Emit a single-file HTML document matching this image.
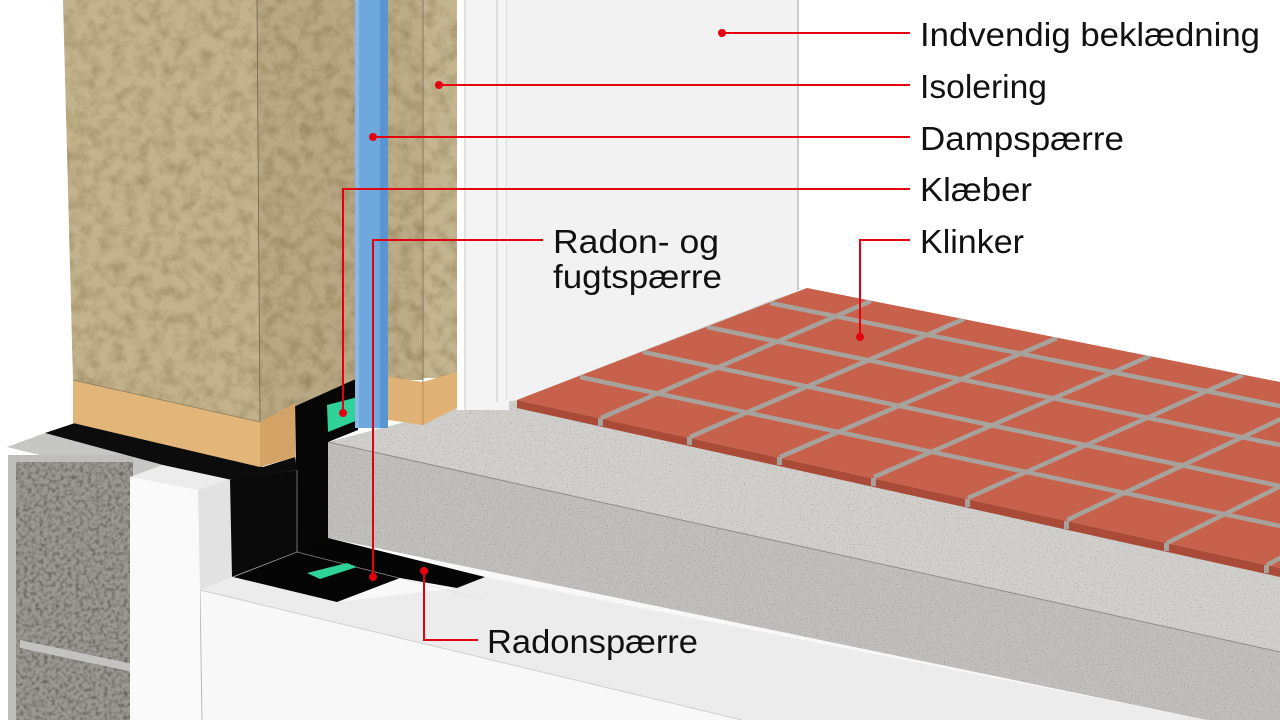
<!DOCTYPE html>
<html><head><meta charset="utf-8"><style>
html,body{margin:0;padding:0;background:#fff;}
svg{display:block;}
text{font-family:"Liberation Sans",sans-serif;fill:#111;}
</style></head><body>
<svg width="1280" height="720" viewBox="0 0 1280 720" xmlns="http://www.w3.org/2000/svg">
<defs>
<filter id="wool" x="0" y="0" width="1" height="1">
<feTurbulence type="fractalNoise" baseFrequency="0.08" numOctaves="3" seed="3"/>
<feColorMatrix type="matrix" values="0 0 0 0 0.5  0 0 0 0 0.45  0 0 0 0 0.3  0 0 0 -1.2 0.75"/>
<feComposite in2="SourceGraphic" operator="in"/>
<feBlend in2="SourceGraphic" mode="multiply"/>
</filter>
<filter id="leca" x="0" y="0" width="1" height="1">
<feTurbulence type="fractalNoise" baseFrequency="0.25" numOctaves="2" seed="5"/>
<feColorMatrix type="matrix" values="0 0 0 0 0.3  0 0 0 0 0.3  0 0 0 0 0.28  0 0 0 -2 1.2"/>
<feComposite in2="SourceGraphic" operator="in"/>
<feBlend in2="SourceGraphic" mode="multiply"/>
</filter>
<filter id="conc" x="0" y="0" width="1" height="1">
<feTurbulence type="fractalNoise" baseFrequency="0.7" numOctaves="2" seed="7"/>
<feColorMatrix type="matrix" values="0 0 0 0 0.55  0 0 0 0 0.55  0 0 0 0 0.53  0 0 0 -4 1.6"/>
<feComposite in2="SourceGraphic" operator="in"/>
<feBlend in2="SourceGraphic" mode="multiply"/>
</filter>
<clipPath id="tileclip"><polygon points="517,400 807,288 1280,382 1280,568"/></clipPath>
</defs>

<!-- EPS bottom -->
<rect x="200" y="560" width="1080" height="160" fill="#f8f8f8"/>
<polygon points="200,590 232,577 337,602 457,588 485,577 1207,720 742,720" fill="#ececec"/>
<line x1="200" y1="590" x2="742" y2="720" stroke="#d0d0d0" stroke-width="1"/>
<line x1="200" y1="590" x2="202" y2="720" stroke="#bbb" stroke-width="1"/>

<!-- concrete slab -->
<polygon points="328,442 470,405 807,288 1280,382 1280,652" fill="#d0cfcb" filter="url(#conc)"/>
<polygon points="328,442 1280,652 1280,720 1207,720 328,538" fill="#c0bfbb" filter="url(#conc)"/>
<line x1="328" y1="442" x2="1280" y2="652" stroke="#8e8d89" stroke-width="1"/>

<!-- leca block -->
<polygon points="7,447 45,433 163,465 130,477" fill="#c6c6c2"/>
<rect x="8" y="455" width="125" height="265" fill="#bdbdb9"/>
<rect x="16" y="462" width="117" height="258" fill="#9b9892" filter="url(#leca)"/>
<polygon points="20,640 133,664 133,672 20,648" fill="#c2c2be"/>

<!-- EPS left vertical -->
<polygon points="130,477 163,465 232,478 198,490" fill="#ececec"/>
<polygon points="130,477 198,490 200,590 200,720 130,720" fill="#fafafa"/>
<polygon points="198,490 232,478 232,577 200,590" fill="#e2e2e2"/>

<!-- black membrane strip on wall top -->
<polygon points="45,433 75,423 263,467 295,457 297,470 232,480 163,465" fill="#0c0c0c"/>
<polygon points="230,480 297,470 297,552 232,577" fill="#0a0a0a"/>
<polygon points="295,400 358,378 358,430 328,442 328,540 297,552" fill="#060606"/>
<polygon points="327,405 358,397 358,420 328,432" fill="#2fd39a"/>
<polygon points="233,577 297,552 328,538 485,577 457,588 400,578 337,602" fill="#050505"/>
<polyline points="233,577 297,552 485,600" fill="none" stroke="#ddd" stroke-width="0.8" opacity="0.6"/>
<line x1="297" y1="470" x2="297" y2="552" stroke="#ddd" stroke-width="0.8" opacity="0.6"/>
<polygon points="307,573 347,563 357,567 320,579" fill="#2fd39a"/>

<!-- left insulation block -->
<polygon points="63,0 257,0 260,422 73,380" fill="#c3b38c" filter="url(#wool)"/>
<polygon points="257,0 357,0 358,378 260,422" fill="#b8a883" filter="url(#wool)"/>
<line x1="257" y1="0" x2="260" y2="422" stroke="#6e6450" stroke-width="0.8"/>
<polygon points="73,380 260,422 260,467 73,423" fill="#e2b579"/>
<polygon points="260,422 295,403 295,457 260,467" fill="#d3a466"/>
<line x1="73" y1="380" x2="260" y2="422" stroke="#8b7a5a" stroke-width="0.8"/>

<!-- blue vapour barrier -->
<rect x="355" y="0" width="33" height="428" fill="#6fa8dc"/>
<rect x="380" y="0" width="8" height="428" fill="#5a95cf"/>
<rect x="355" y="0" width="4" height="428" fill="#8ab9e6"/>

<!-- second insulation -->
<rect x="388" y="0" width="35" height="380" fill="#bcac87" filter="url(#wool)"/>
<rect x="423" y="0" width="34" height="378" fill="#c4b590" filter="url(#wool)"/>
<line x1="423" y1="0" x2="423" y2="382" stroke="#7a6e56" stroke-width="0.8"/>
<polygon points="388,377 423,382 457,372 457,408 423,425 388,420" fill="#e0b276"/>
<line x1="423" y1="382" x2="423" y2="425" stroke="#b08650" stroke-width="0.8"/>

<!-- plasterboards and wall -->
<rect x="457" y="0" width="52" height="410" fill="#f4f4f4"/>
<rect x="457" y="0" width="8" height="410" fill="#ffffff"/>
<line x1="465" y1="0" x2="465" y2="410" stroke="#c8c8c8" stroke-width="1"/>
<line x1="497" y1="0" x2="497" y2="402" stroke="#c8c8c8" stroke-width="1"/>
<line x1="507" y1="0" x2="507" y2="400" stroke="#c8c8c8" stroke-width="1"/>
<polygon points="507,0 798,0 798,290 517,400 507,402" fill="#f3f2f2"/>
<line x1="798" y1="0" x2="798" y2="290" stroke="#9a9a9a" stroke-width="1"/>

<!-- tiles -->
<polygon points="517,400 1280,568 1280,577 517,408" fill="#a94b38"/>
<polygon points="517,400 807,288 1280,382 1280,568" fill="#c8614b"/>
<g clip-path="url(#tileclip)" stroke="#a8a29c" stroke-width="4.5">
<!-- rows -->
<line x1="770" y1="303" x2="1280" y2="406"/>
<line x1="707" y1="327" x2="1280" y2="445"/>
<line x1="643" y1="352" x2="1280" y2="486"/>
<line x1="580" y1="377" x2="1280" y2="526"/>
<!-- columns: front -> back -->
<line x1="601" y1="418" x2="871" y2="301"/>
<line x1="690" y1="437" x2="964" y2="319"/>
<line x1="780" y1="457" x2="1057" y2="338"/>
<line x1="874" y1="477" x2="1150" y2="356"/>
<line x1="968" y1="498" x2="1243" y2="375"/>
<line x1="1067" y1="520" x2="1336" y2="393"/>
<line x1="1167" y1="543" x2="1429" y2="412"/>
<line x1="1267" y1="565" x2="1522" y2="430"/>
</g>
<g fill="#a8a29c">
<rect x="598" y="418" width="5" height="8"/>
<rect x="687" y="437" width="5" height="8"/>
<rect x="777" y="457" width="5" height="8"/>
<rect x="871" y="478" width="5" height="8"/>
<rect x="965" y="499" width="5" height="8"/>
<rect x="1064" y="521" width="5" height="8"/>
<rect x="1164" y="543" width="5" height="8"/>
<rect x="1264" y="565" width="5" height="8"/>
</g>

<!-- leader lines -->
<g stroke="#e3000f" stroke-width="2" fill="none">
<line x1="722" y1="33" x2="910" y2="33"/>
<line x1="439" y1="85" x2="910" y2="85"/>
<line x1="373" y1="137" x2="910" y2="137"/>
<polyline points="343,413 343,189 910,189"/>
<polyline points="860,337 860,240 910,240"/>
<polyline points="373,577 373,240 543,240"/>
<polyline points="424,571 424,640 478,640"/>
</g>
<g fill="#e3000f">
<circle cx="722" cy="33" r="4"/>
<circle cx="439" cy="85" r="4"/>
<circle cx="373" cy="137" r="4"/>
<circle cx="343" cy="413" r="4"/>
<circle cx="860" cy="337" r="4"/>
<circle cx="373" cy="577" r="4"/>
<circle cx="424" cy="571" r="4"/>
</g>

<!-- labels -->
<g font-size="33">
<text x="920" y="46" textLength="340" lengthAdjust="spacingAndGlyphs">Indvendig beklædning</text>
<text x="920" y="98" textLength="127" lengthAdjust="spacingAndGlyphs">Isolering</text>
<text x="920" y="150" textLength="204" lengthAdjust="spacingAndGlyphs">Dampspærre</text>
<text x="920" y="201" textLength="112" lengthAdjust="spacingAndGlyphs">Klæber</text>
<text x="920" y="253" textLength="104" lengthAdjust="spacingAndGlyphs">Klinker</text>
<text x="553" y="253" textLength="166" lengthAdjust="spacingAndGlyphs">Radon- og</text>
<text x="553" y="288" textLength="169" lengthAdjust="spacingAndGlyphs">fugtspærre</text>
<text x="487" y="653" textLength="211" lengthAdjust="spacingAndGlyphs">Radonspærre</text>
</g>
</svg>
</body></html>
